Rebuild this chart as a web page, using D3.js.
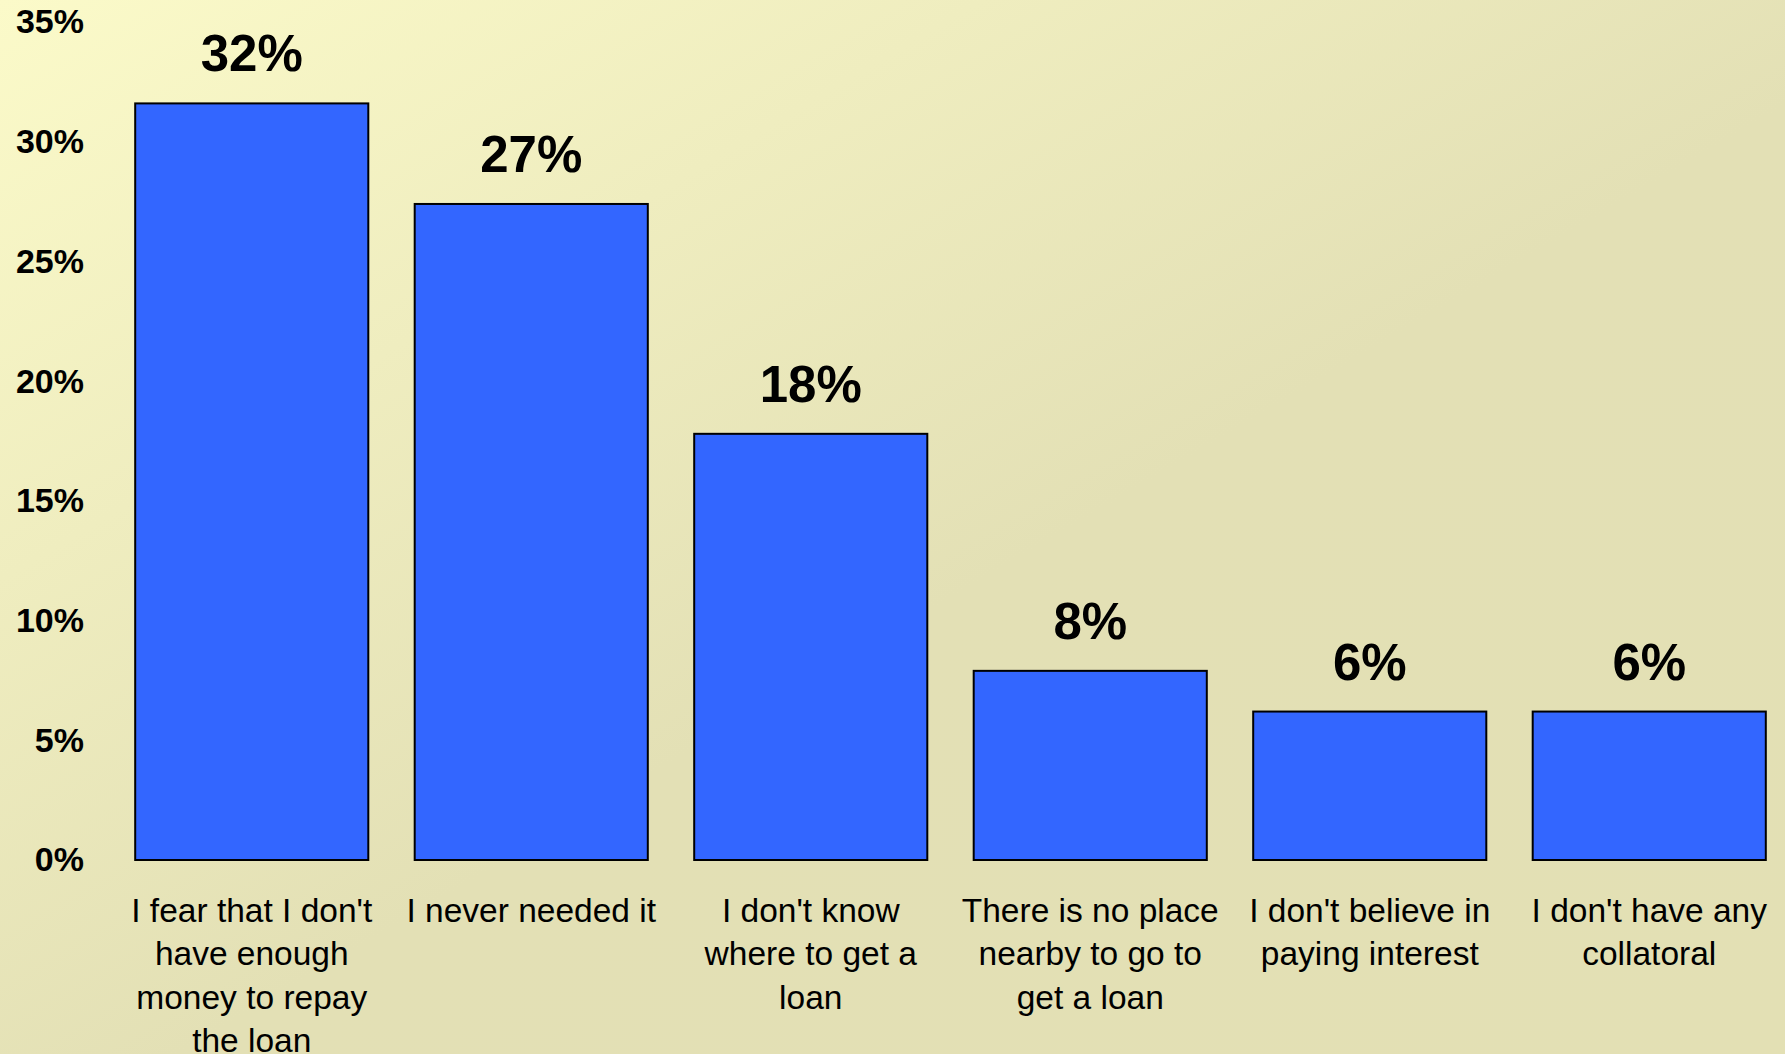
<!DOCTYPE html>
<html>
<head>
<meta charset="utf-8">
<script src="https://cdn.jsdelivr.net/npm/d3@7"></script>
<style>
  html, body { margin: 0; padding: 0; }
  body { width: 1785px; height: 1054px; overflow: hidden; }
  svg { display: block; font-family: Arial, "Liberation Sans", sans-serif; }
</style>
</head>
<body>
<svg id="chart" width="1785" height="1054"></svg>
<script>
// Reasons given for not taking a loan (share of respondents, %)
const categories = [
  "I fear that I don't have enough money to repay the loan",
  "I never needed it",
  "I don't know where to get a loan",
  "There is no place nearby to go to get a loan",
  "I don't believe in paying interest",
  "I don't have any collatoral"
];
const values = [31.6, 27.4, 17.8, 7.9, 6.2, 6.2];
// Wrapped lines for each category label
const categoryLines = [
  ["I fear that I don't", "have enough", "money to repay", "the loan"],
  ["I never needed it"],
  ["I don't know", "where to get a", "loan"],
  ["There is no place", "nearby to go to", "get a loan"],
  ["I don't believe in", "paying interest"],
  ["I don't have any", "collatoral"]
];
const yTicks = [0, 5, 10, 15, 20, 25, 30, 35];

const W = 1785, H = 1054;
const svg = d3.select("#chart");

// Background: soft diagonal gradient from pale yellow to khaki
const defs = svg.append("defs");
const grad = defs.append("linearGradient")
  .attr("id", "bg").attr("x1", 0).attr("y1", 0).attr("x2", 1).attr("y2", 1);
grad.append("stop").attr("offset", 0).attr("stop-color", "#fbfac9");
grad.append("stop").attr("offset", 0.55).attr("stop-color", "#e3e0b5");
grad.append("stop").attr("offset", 1).attr("stop-color", "#e3e0b4");
svg.append("rect").attr("width", W).attr("height", H).attr("fill", "url(#bg)");

const x = d3.scaleBand()
  .domain(categories)
  .range([112, 1789])
  .paddingInner(0.166)
  .paddingOuter(0.083);

const y = d3.scaleLinear().domain([0, 35]).range([860, 22]);

// Y axis: bold percentage labels, no line or ticks
const yAxis = svg.append("g")
  .attr("transform", "translate(84,0)")
  .call(d3.axisLeft(y).tickValues(yTicks).tickSize(0).tickPadding(0)
    .tickFormat(d => d + "%"));
yAxis.select(".domain").remove();
yAxis.selectAll("text")
  .attr("font-family", "Arial, 'Liberation Sans', sans-serif")
  .attr("font-size", 34)
  .attr("font-weight", "bold")
  .attr("fill", "#000");

// Bars
svg.append("g").selectAll("rect")
  .data(values)
  .join("rect")
  .attr("x", (d, i) => x(categories[i]))
  .attr("y", d => y(d))
  .attr("width", x.bandwidth())
  .attr("height", d => y(0) - y(d))
  .attr("fill", "#3366ff")
  .attr("stroke", "#000")
  .attr("stroke-width", 2);

// Value labels above the bars
const fmt = d => d3.format(".0f")(d) + "%";
svg.append("g").selectAll("text")
  .data(values)
  .join("text")
  .attr("x", (d, i) => x(categories[i]) + x.bandwidth() / 2)
  .attr("y", d => y(d) - 32)
  .attr("text-anchor", "middle")
  .attr("font-size", 51)
  .attr("font-weight", "bold")
  .attr("fill", "#000")
  .text(fmt);

// X axis with wrapped category labels
const xAxis = svg.append("g")
  .attr("transform", `translate(0,${y(0)})`)
  .call(d3.axisBottom(x).tickSize(0).tickFormat(""));
xAxis.select(".domain").remove();
xAxis.selectAll(".tick").each(function (d, i) {
  const t = d3.select(this).append("text")
    .attr("text-anchor", "middle")
    .attr("font-family", "Arial, 'Liberation Sans', sans-serif")
    .attr("font-size", 33.5)
    .attr("fill", "#000");
  categoryLines[i].forEach((line, k) => {
    t.append("tspan").attr("x", 0).attr("y", 62 + k * 43.3).text(line);
  });
});
</script>
</body>
</html>
